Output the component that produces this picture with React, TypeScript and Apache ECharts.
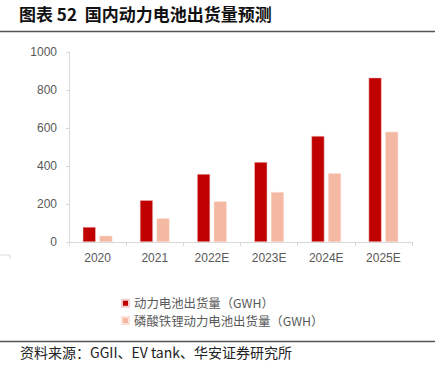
import React, { useEffect, useRef } from "react";
import * as echarts from "echarts";

const categories = ["2020", "2021", "2022E", "2023E", "2024E", "2025E"];
const totalShipments = [79, 220, 358, 421, 558, 865];
const lfpShipments = [33, 125, 214, 263, 362, 580];
const seriesNames = ["动力电池出货量（GWH）", "磷酸铁锂动力电池出货量（GWH）"];
const yTicks = { min: 0, max: 1000, interval: 200 };
const titleText = "图表 52  国内动力电池出货量预测";
const sourceText = "资料来源：GGII、EV tank、华安证券研究所";

export default function App() {
  const ref = useRef<HTMLDivElement>(null);
  useEffect(() => {
    if (!ref.current) return;
    const chart = echarts.init(ref.current, undefined, { renderer: "svg" });
    const cjk = "'Noto Sans CJK SC', sans-serif";
    const latin = "'Liberation Sans', Arial, sans-serif";
    chart.setOption({
      animation: false,
      backgroundColor: "#ffffff",
      grid: { left: 69, right: 31, top: 52, bottom: 125 },
      legend: {
        orient: "vertical",
        left: 121,
        top: 297,
        itemWidth: 7,
        itemHeight: 7,
        itemGap: 5,
        icon: "rect",
        padding: 0,
        textStyle: { color: "#595959", fontSize: 12.4, lineHeight: 12, fontFamily: cjk },
        data: seriesNames,
      },
      xAxis: {
        type: "category",
        data: categories,
        axisLine: { lineStyle: { color: "#D9D9D9" } },
        axisTick: { show: true, length: 4, lineStyle: { color: "#D9D9D9" } },
        axisLabel: { color: "#595959", fontSize: 12, fontFamily: latin, margin: 10 },
      },
      yAxis: {
        type: "value",
        min: yTicks.min,
        max: yTicks.max,
        interval: yTicks.interval,
        axisLine: { show: true, lineStyle: { color: "#D9D9D9" } },
        axisTick: { show: true, length: 3, lineStyle: { color: "#D9D9D9" } },
        splitLine: { show: false },
        axisLabel: {
          color: "#595959",
          fontSize: 12,
          fontFamily: latin,
          margin: 12,
          formatter: (v: number) => String(v),
        },
      },
      series: [
        {
          name: seriesNames[0],
          type: "bar",
          data: totalShipments,
          barWidth: 13,
          barGap: "28%",
          itemStyle: { color: "#C00000", borderColor: "#F2D0D0", borderWidth: 0.5 },
        },
        {
          name: seriesNames[1],
          type: "bar",
          data: lfpShipments,
          barWidth: 13,
          itemStyle: { color: "#F5B9A3", borderColor: "#FBE3DA", borderWidth: 0.5 },
        },
      ],
      graphic: [
        {
          type: "text",
          left: 19,
          top: 5,
          style: { text: titleText, fill: "#111111", font: `bold 17px ${cjk}` },
        },
        {
          type: "line",
          shape: { x1: 0, y1: 31.5, x2: 435, y2: 31.5 },
          style: { stroke: "#555555", lineWidth: 1.5 },
        },
        {
          type: "polyline",
          shape: { points: [[0, 255], [10, 255], [10, 259]] },
          style: { stroke: "#DDDDDD", lineWidth: 1, fill: "none" },
        },
        {
          type: "line",
          shape: { x1: 0, y1: 341.5, x2: 435, y2: 341.5 },
          style: { stroke: "#555555", lineWidth: 1.5 },
        },
        {
          type: "text",
          left: 20,
          top: 345,
          style: { text: sourceText, fill: "#222222", font: `14px ${cjk}` },
        },
      ],
    });
    return () => chart.dispose();
  }, []);
  return <div ref={ref} style={{ width: 443, height: 367, position: "fixed", left: 0, top: 0 }} />;
}
